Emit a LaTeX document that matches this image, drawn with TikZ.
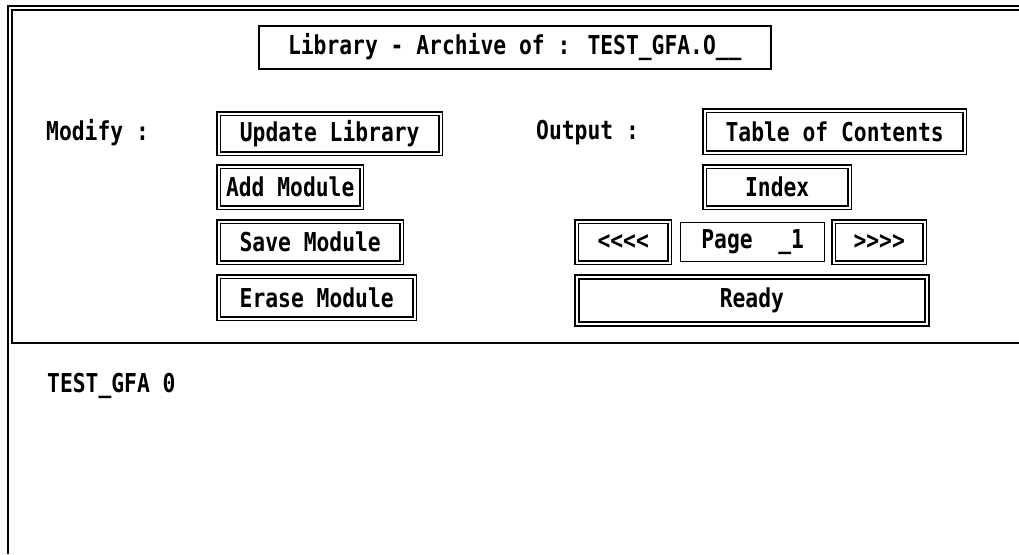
\documentclass[tikz,border=0pt]{standalone}
\usepackage{fontspec}
\newfontfamily\atari[FakeStretch=0.82]{DejaVu Sans Mono Bold}
\begin{document}
\begin{tikzpicture}[x=1pt,y=-1pt,
  every node/.style={font=\atari\fontsize{26}{26}\selectfont, inner sep=0pt},
  btn/.style={draw, line width=1.4pt, double, double distance=1.8pt, anchor=north west},
  plainbox/.style={draw, line width=1.6pt, anchor=north west},
  lbl/.style={anchor=west}]
\useasboundingbox (0,0) rectangle (1019,554);
% frame lines
\draw[line width=2pt] (1019,6) -- (8,6) -- (8,554);
\draw[line width=1.6pt] (1019,10) -- (12,10) -- (12,343) -- (1019,343);
% title
\node[plainbox, minimum width=512, minimum height=43] (title) at (258,25) {Library - Archive of : TEST\_GFA.O\_\_};
% Modify column
\node[lbl] (modify) at (46,133) {Modify :};
\node[btn, minimum width=222, minimum height=40] (update) at (218,113) {Update Library};
\node[btn, minimum width=143, minimum height=41] (add) at (218,166) {Add Module};
\node[btn, minimum width=183, minimum height=41] (save) at (218,221) {Save Module};
\node[btn, minimum width=196, minimum height=42] (erase) at (218,276) {Erase Module};
% Output column
\node[lbl] (output) at (536,133) {Output :};
\node[btn, minimum width=260, minimum height=42] (toc) at (704,110) {Table of Contents};
\node[btn, minimum width=145, minimum height=41] (index) at (704,166) {Index};
\node[btn, minimum width=93, minimum height=41] (prev) at (576,221) {<<<<};
\node[draw, line width=1.4pt, anchor=north west, minimum width=144, minimum height=39] (page) at (680,222) {Page\ \ \_1};
\node[btn, minimum width=91, minimum height=41] (next) at (833,221) {>>>>};
\node[btn, line width=1.8pt, minimum width=350, minimum height=47] (ready) at (576,276) {Ready};
% lower area
\node[lbl] (file) at (47,386) {TEST\_GFA 0};
\end{tikzpicture}
\end{document}
